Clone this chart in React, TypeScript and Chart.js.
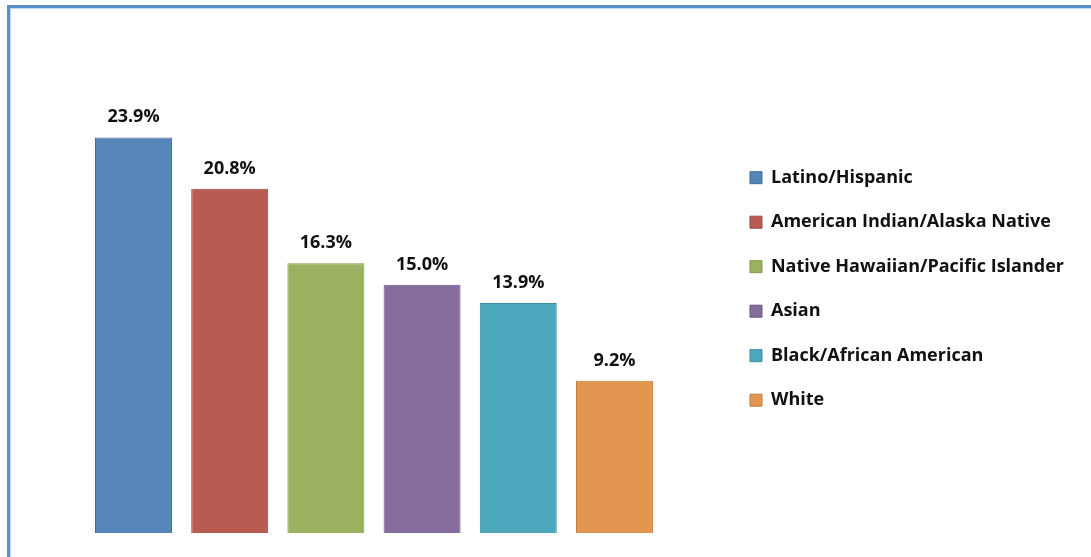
import React, { useEffect, useRef } from 'react';
import { Chart, registerables } from 'chart.js';

Chart.register(...registerables);

const categories = [
  'Latino/Hispanic',
  'American Indian/Alaska Native',
  'Native Hawaiian/Pacific Islander',
  'Asian',
  'Black/African American',
  'White',
];
const values = [23.9, 20.8, 16.3, 15.0, 13.9, 9.2];
const fillColors = ['#5686b9', '#b95b53', '#9cb15f', '#846d9d', '#4ca8bd', '#e3964f'];
const borderColors = ['#3f6b9c', '#9a4841', '#7f984a', '#6a5584', '#3a8b9e', '#c27b3d'];

const FONT = '"Open Sans", Lato, sans-serif';
const TEXT_COLOR = '#111111';

const valueLabels = {
  id: 'valueLabels',
  afterDatasetsDraw(chart: any) {
    const ctx = chart.ctx;
    const meta = chart.getDatasetMeta(0);
    ctx.save();
    ctx.font = `bold 18px ${FONT}`;
    ctx.fillStyle = TEXT_COLOR;
    ctx.textAlign = 'center';
    ctx.textBaseline = 'alphabetic';
    meta.data.forEach((bar: any, i: number) => {
      ctx.fillText(values[i].toFixed(1) + '%', bar.x, bar.y - 15);
    });
    ctx.restore();
  },
};

export default function App() {
  const ref = useRef<HTMLCanvasElement | null>(null);
  useEffect(() => {
    if (!ref.current) return;
    const chart = new Chart(ref.current, {
      type: 'bar',
      data: {
        labels: categories,
        datasets: [
          {
            data: values,
            backgroundColor: fillColors,
            borderColor: borderColors,
            borderWidth: 1,
            categoryPercentage: 0.8,
            barPercentage: 1,
          },
        ],
      },
      options: {
        animation: false,
        responsive: true,
        maintainAspectRatio: false,
        layout: { padding: { left: 74.4, top: 27.5, bottom: 24, right: 17 } },
        scales: {
          x: { display: false },
          y: {
            position: 'right',
            min: 0,
            max: 30,
            ticks: { display: false },
            grid: { display: false },
            border: { display: false },
            afterFit: (s: any) => {
              s.width = 60.9;
            },
          },
        },
        plugins: {
          tooltip: { enabled: false },
          legend: {
            position: 'right',
            maxWidth: 420,
            title: { display: true, text: ' ', font: { size: 7 }, padding: 0 },
            labels: {
              boxWidth: 12,
              boxHeight: 12,
              padding: 26.5,
              color: TEXT_COLOR,
              font: { family: FONT, size: 18, weight: 'bold' },
              generateLabels: () =>
                categories.map((c, i) => ({
                  text: c,
                  fillStyle: fillColors[i],
                  strokeStyle: borderColors[i],
                  fontColor: TEXT_COLOR,
                  lineWidth: 1,
                  hidden: false,
                  index: i,
                  datasetIndex: 0,
                })),
            },
          },
        },
      },
      plugins: [valueLabels],
    });
    return () => chart.destroy();
  }, []);

  return (
    <div
      style={{
        position: 'fixed',
        left: 7,
        top: 5,
        width: 1084,
        height: 552,
        boxSizing: 'border-box',
        borderTop: '3px solid #5b8fc8',
        borderLeft: '3px solid #5b8fc8',
        boxShadow: 'inset 1px 1px 0 #c3d7ee',
        background: '#fff',
      }}
    >
      <div style={{ position: 'absolute', left: 1, top: 1, right: 0, bottom: 0 }}>
        <canvas ref={ref} />
      </div>
    </div>
  );
}
